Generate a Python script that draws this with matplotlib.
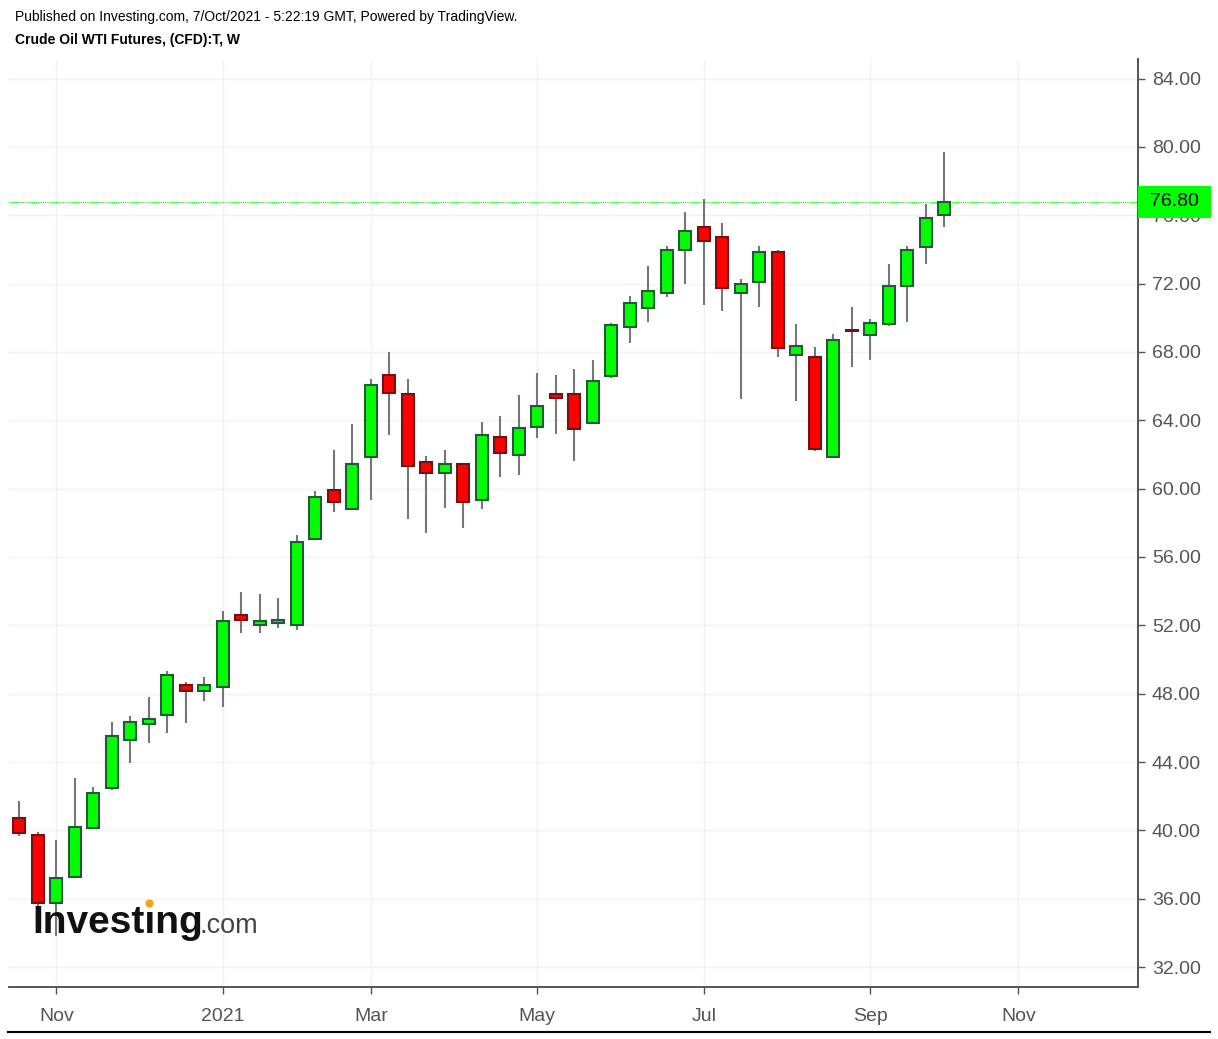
import pandas as pd
import matplotlib
matplotlib.use("Agg")
import matplotlib.pyplot as plt
from matplotlib.lines import Line2D
from matplotlib.patches import Rectangle
from matplotlib.transforms import blended_transform_factory

plt.rcParams['font.family'] = ['Liberation Sans', 'DejaVu Sans']

# Weekly candles, WTI crude
week_start = "2020-10-19"
opens = [40.74, 39.74, 35.76, 37.29, 40.16, 42.46, 45.29, 46.21, 46.75, 48.52,
         48.16, 48.37, 52.58, 52.00, 52.12, 52.02, 57.05, 59.92, 58.81, 61.87,
         66.63, 65.54, 61.58, 60.90, 61.46, 59.36, 63.01, 61.99, 63.61, 65.54,
         65.54, 63.86, 66.59, 69.48, 70.56, 71.44, 73.95, 75.30, 74.75, 71.44,
         72.10, 73.87, 67.82, 67.73, 61.87, 69.29, 69.01, 69.62, 71.86, 74.16,
         76.04]
highs = [41.73, 39.88, 39.43, 43.04, 42.52, 46.32, 46.69, 47.79, 49.33, 48.66,
         49.00, 52.84, 53.93, 53.83, 53.60, 57.29, 59.85, 62.26, 63.80, 66.44,
         67.98, 66.44, 61.93, 62.26, 61.50, 63.92, 64.25, 65.47, 66.77, 66.65,
         66.98, 67.53, 69.72, 71.28, 73.03, 74.22, 76.21, 76.96, 75.53, 72.27,
         74.22, 73.95, 69.62, 68.31, 69.05, 70.62, 69.93, 73.15, 74.22, 76.66,
         79.72]
lows = [39.69, 35.00, 33.80, 37.20, 40.10, 42.36, 43.96, 45.09, 45.72, 46.26,
        47.57, 47.24, 51.53, 51.53, 51.86, 51.73, 57.00, 58.65, 58.75, 59.32,
        63.16, 58.24, 57.39, 58.89, 57.68, 58.79, 60.67, 60.78, 62.95, 63.18,
        61.64, 63.80, 66.48, 68.54, 69.74, 71.20, 71.96, 70.75, 70.42, 65.25,
        70.63, 67.69, 65.15, 62.20, 61.78, 67.10, 67.53, 69.55, 69.74, 73.15,
        75.33]
closes = [39.83, 35.73, 37.23, 40.18, 42.17, 45.54, 46.32, 46.52, 49.08, 48.16,
          48.52, 52.25, 52.31, 52.25, 52.29, 56.86, 59.49, 59.24, 61.46, 66.09,
          65.62, 61.33, 60.90, 61.46, 59.24, 63.12, 62.11, 63.57, 64.86, 65.29,
          63.51, 66.30, 69.58, 70.89, 71.57, 73.97, 75.08, 74.50, 71.76, 72.00,
          73.87, 68.25, 68.37, 62.32, 68.70, 69.22, 69.68, 71.88, 73.97, 75.84,
          76.80]
last_price = 76.80
price_ticks = [32, 36, 40, 44, 48, 52, 56, 60, 64, 68, 72, 76, 80, 84]

# weeks incl. empty space on the right of the chart
weeks = pd.date_range(week_start, periods=61, freq="7D")
tick_pos, tick_lab = [], []
for i in range(1, len(weeks)):
    m = weeks[i].month
    if m != weeks[i - 1].month and m % 2 == 1:
        tick_pos.append(i)
        tick_lab.append(str(weeks[i].year) if m == 1 else weeks[i].strftime("%b"))

W, H = 1218, 1039
fig = plt.figure(figsize=(W / 100, H / 100), dpi=100)
ax = fig.add_axes([9 / W, 52 / H, (1138 - 9) / W, (987 - 59) / H])

n = len(closes)
xs = list(range(n))
up = [c >= o for o, c in zip(opens, closes)]
body_col = ['#00ff00' if u else '#ff0000' for u in up]
edge_col = ['#25573a' if u else '#6e1414' for u in up]
bottoms = [min(o, c) for o, c in zip(opens, closes)]
heights = [max(abs(c - o), 0.06) for o, c in zip(opens, closes)]

ax.vlines(xs, lows, highs, color='#777777', lw=1.5, zorder=2)
ax.bar(xs, heights, bottom=bottoms, width=0.64, color=body_col,
       edgecolor=edge_col, linewidth=1.5, zorder=3)

ax.axhline(last_price, color='#00ee00', ls=(0, (1, 1)), lw=0.8, zorder=1)

ax.set_xlim(-0.56, 60.47)
ax.set_ylim(30.83, 85.15)
ax.set_yticks(price_ticks)
ax.set_yticklabels([f"{p:.2f}" for p in price_ticks])
ax.set_xticks(tick_pos)
ax.set_xticklabels(tick_lab)
ax.yaxis.tick_right()
ax.grid(color='#f2f2f2', lw=1, zorder=0)
ax.set_axisbelow(True)

for s in ['left', 'top']:
    ax.spines[s].set_visible(False)
for s in ['right', 'bottom']:
    ax.spines[s].set_color('#555555')
    ax.spines[s].set_linewidth(1.4)
ax.tick_params(axis='y', length=5, width=1, color='#555555', pad=5,
               labelsize=14, labelcolor='#555555')
ax.tick_params(axis='x', length=5, width=1, color='#555555', pad=10,
               labelsize=14, labelcolor='#555555')

# last price marker on the axis
tr = blended_transform_factory(fig.transFigure, ax.transData)
fig.add_artist(Rectangle((1138 / W, last_price - 0.93), 73 / W, 1.86,
                         transform=tr, facecolor='#00ff00', edgecolor='none',
                         zorder=5))
fig.text(1150 / W, last_price, f"{last_price:.2f}", transform=tr, fontsize=14,
         color='black', va='center', ha='left', zorder=6)

# header
fig.text(15 / W, 1 - 17 / H, "Published on Investing.com, 7/Oct/2021 - 5:22:19 GMT, Powered by TradingView.",
         fontsize=10, va='center', ha='left')
fig.text(15 / W, 1 - 40 / H, "Crude Oil WTI Futures, (CFD):T, W",
         fontsize=10, fontweight='bold', va='center', ha='left')

# watermark logo
fig.text(32 / W, 1 - 933 / H, "Investıng", fontsize=28, fontweight='bold',
         color='#111111', va='baseline', ha='left', zorder=4)
fig.text(199 / W, 1 - 933 / H, ".com", fontsize=19.5, color='#444444',
         va='baseline', ha='left', zorder=4)
fig.add_artist(Line2D([149 / W], [1 - 903 / H], transform=fig.transFigure,
                      marker='o', markersize=5, color='#f5a31a', lw=0, zorder=5))

# bottom rule
fig.add_artist(Line2D([8 / W, 1210 / W], [1 - 1032 / H, 1 - 1032 / H],
                      transform=fig.transFigure, color='black', lw=1.5))

fig.savefig("out.png", dpi=100)
